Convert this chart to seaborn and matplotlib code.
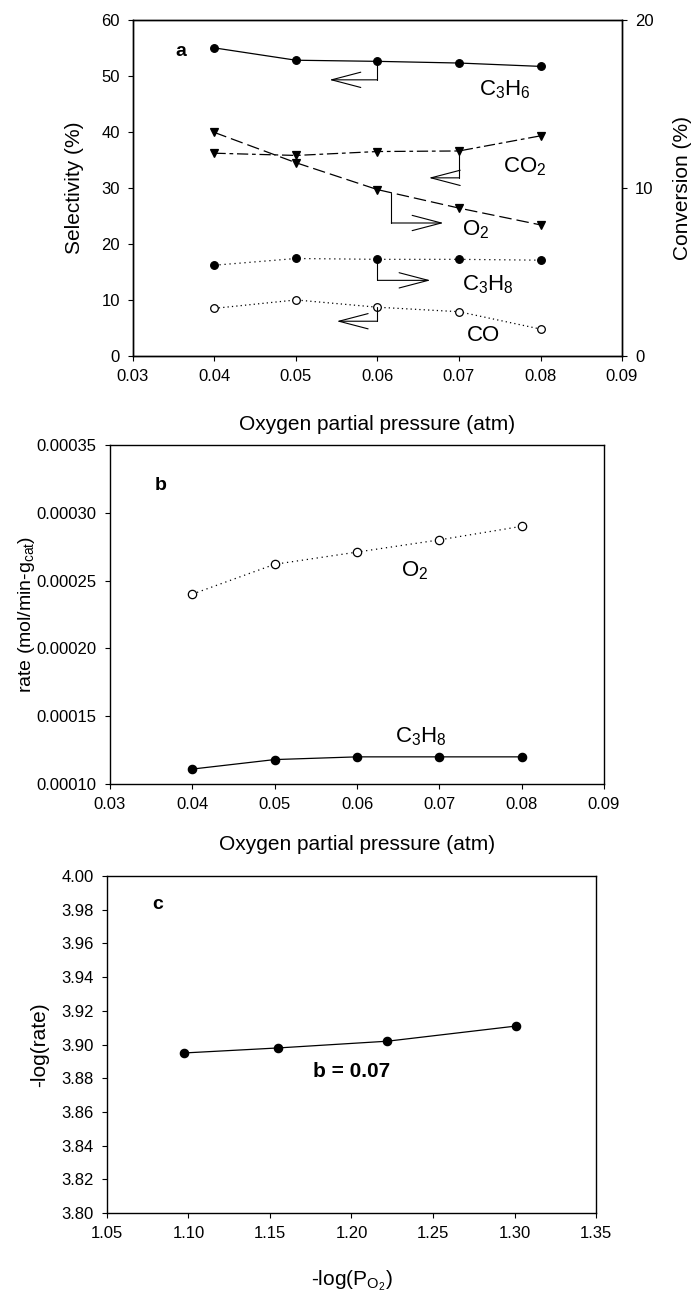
import numpy as np
import matplotlib
matplotlib.use("Agg")
import matplotlib.pyplot as plt
import seaborn as sns
from matplotlib.ticker import FormatStrFormatter, FixedLocator

# ---------------- data ----------------
pO2 = [0.04, 0.05, 0.06, 0.07, 0.08]
sel_C3H6 = [55.0, 52.8, 52.6, 52.3, 51.7]
sel_CO2 = [36.2, 35.8, 36.5, 36.6, 39.3]
sel_CO = [8.5, 10.0, 8.7, 7.9, 4.8]
conv_O2 = [13.3, 11.5, 9.9, 8.8, 7.8]
conv_C3H8 = [5.4, 5.8, 5.75, 5.75, 5.7]

rate_O2 = [0.000240, 0.000262, 0.000271, 0.000280, 0.000290]
rate_C3H8 = [0.000111, 0.000118, 0.000120, 0.000120, 0.000120]

neg_log_p = [1.097, 1.155, 1.222, 1.301]
neg_log_rate = [3.895, 3.898, 3.902, 3.911]

xticks_ab = [0.03, 0.04, 0.05, 0.06, 0.07, 0.08, 0.09]
yticks_a = [0, 10, 20, 30, 40, 50, 60]
yticks_a2 = [0, 10, 20]
yticks_b = [0.00010, 0.00015, 0.00020, 0.00025, 0.00030, 0.00035]
xticks_c = [1.05, 1.10, 1.15, 1.20, 1.25, 1.30, 1.35]
yticks_c = [3.80, 3.82, 3.84, 3.86, 3.88, 3.90, 3.92, 3.94, 3.96, 3.98, 4.00]

# ---------------- style ----------------
sns.set_theme(style="ticks")
plt.rcParams["font.family"] = ["Liberation Sans", "DejaVu Sans"]
plt.rcParams["mathtext.fontset"] = "custom"
plt.rcParams["mathtext.rm"] = "Liberation Sans"
plt.rcParams["mathtext.it"] = "Liberation Sans:italic"
plt.rcParams["mathtext.bf"] = "Liberation Sans:bold"
plt.rcParams["mathtext.default"] = "regular"
plt.rcParams["axes.linewidth"] = 1.0
plt.rcParams["axes.edgecolor"] = "black"
plt.rcParams["text.color"] = "black"
plt.rcParams["axes.labelcolor"] = "black"
plt.rcParams["xtick.color"] = "black"
plt.rcParams["ytick.color"] = "black"
plt.rcParams["xtick.labelcolor"] = "black"
plt.rcParams["ytick.labelcolor"] = "black"

TICK_FS = 12
LAB_FS = 15
SPEC_FS = 16

fig = plt.figure(figsize=(6.97, 13.01), dpi=100)
ax_a = fig.add_axes([0.1908, 0.7264, 0.7016, 0.2583])
ax_b = fig.add_axes([0.1578, 0.3974, 0.7088, 0.2606])
ax_c = fig.add_axes([0.1535, 0.0676, 0.7016, 0.2590])


def style_axes(ax):
    for s in ax.spines.values():
        s.set_visible(True)
        s.set_color("black")
        s.set_linewidth(1.0)
    ax.tick_params(axis="both", direction="out", length=3.5, width=0.8,
                   labelsize=TICK_FS, colors="black", pad=6)
    ax.tick_params(top=False, right=False)


def line(ax, x, y, ls, marker, filled=True, ms=5.5, lw=0.9):
    sns.lineplot(x=x, y=y, ax=ax, color="black", linestyle=ls, linewidth=lw,
                 marker=marker, markersize=ms,
                 markerfacecolor="black" if filled else "white",
                 markeredgecolor="black", markeredgewidth=0.9,
                 errorbar=None, sort=False)


def indicator(ax, x0, y0, dy, dx):
    ax.plot([x0, x0], [y0, y0 + dy], color="black", lw=0.8)
    ax.annotate("", xy=(x0 + dx, y0 + dy), xytext=(x0, y0 + dy),
                arrowprops=dict(arrowstyle="->,head_length=2.1,head_width=0.55",
                                color="black", lw=0.8, shrinkA=0, shrinkB=0,
                                mutation_scale=10))


# ---------------- panel a ----------------
ax2 = ax_a.twinx()
line(ax_a, pO2, sel_C3H6, "-", "o")
line(ax_a, pO2, sel_CO2, (0, (9, 3, 3, 3)), "v", ms=6)
line(ax_a, pO2, sel_CO, (0, (1, 2.5)), "o", filled=False)
line(ax2, pO2, conv_O2, (0, (10, 4)), "v", ms=6)
line(ax2, pO2, conv_C3H8, (0, (1, 3)), "o")

ax_a.set_xlim(0.03, 0.09)
ax_a.set_ylim(0, 60)
ax2.set_ylim(0, 20)
ax_a.xaxis.set_major_locator(FixedLocator(xticks_ab))
ax_a.yaxis.set_major_locator(FixedLocator(yticks_a))
ax2.yaxis.set_major_locator(FixedLocator(yticks_a2))
ax_a.xaxis.set_major_formatter(FormatStrFormatter("%.2f"))
style_axes(ax_a)
for s in ax2.spines.values():
    s.set_color("black")
    s.set_linewidth(1.0)
ax2.tick_params(axis="y", direction="out", length=3.5, width=0.8,
                labelsize=TICK_FS, colors="black", pad=6)
ax_a.set_xlabel("Oxygen partial pressure (atm)", fontsize=LAB_FS, color="black")
ax_a.set_ylabel("Selectivity (%)", fontsize=LAB_FS, color="black")
ax2.set_ylabel("Conversion (%)", fontsize=LAB_FS, rotation=90, color="black")
ax_a.xaxis.set_label_coords(0.5, -0.175)
ax_a.yaxis.set_label_coords(-0.10, 0.5)
ax2.yaxis.set_label_coords(1.105, 0.5)

indicator(ax_a, pO2[2], sel_C3H6[2], -3.3, -0.0059)
indicator(ax_a, pO2[3], sel_CO2[3], -4.8, -0.0037)
indicator(ax_a, pO2[2], sel_CO[2], -2.5, -0.0050)
x_o2 = pO2[2] + 0.0017
indicator(ax2, x_o2, float(np.interp(x_o2, pO2, conv_O2)), -1.8, 0.0064)
indicator(ax2, pO2[2], conv_C3H8[2], -1.25, 0.0065)

ax_a.text(0.0359, 54.3, "a", fontsize=14, fontweight="bold", ha="center", va="center")
ax_a.text(0.0756, 47.6, "C$_3$H$_6$", fontsize=SPEC_FS, ha="center", va="center")
ax_a.text(0.0781, 33.8, "CO$_2$", fontsize=SPEC_FS, ha="center", va="center")
ax_a.text(0.0720, 22.6, "O$_2$", fontsize=SPEC_FS, ha="center", va="center")
ax_a.text(0.0736, 12.7, "C$_3$H$_8$", fontsize=SPEC_FS, ha="center", va="center")
ax_a.text(0.0730, 3.7, "CO", fontsize=SPEC_FS, ha="center", va="center")

# ---------------- panel b ----------------
line(ax_b, pO2, rate_O2, (0, (1, 3)), "o", filled=False, ms=6)
line(ax_b, pO2, rate_C3H8, "-", "o", ms=6)
ax_b.set_xlim(0.03, 0.09)
ax_b.set_ylim(0.00010, 0.00035)
ax_b.xaxis.set_major_locator(FixedLocator(xticks_ab))
ax_b.yaxis.set_major_locator(FixedLocator(yticks_b))
ax_b.xaxis.set_major_formatter(FormatStrFormatter("%.2f"))
ax_b.yaxis.set_major_formatter(FormatStrFormatter("%.5f"))
style_axes(ax_b)
ax_b.set_xlabel("Oxygen partial pressure (atm)", fontsize=LAB_FS, color="black")
ax_b.set_ylabel("rate (mol/min-g$_{cat}$)", fontsize=14, color="black")
ax_b.xaxis.set_label_coords(0.5, -0.15)
ax_b.yaxis.set_label_coords(-0.148, 0.5)
ax_b.text(0.0362, 0.000320, "b", fontsize=14, fontweight="bold", ha="center", va="center")
ax_b.text(0.0670, 0.000257, "O$_2$", fontsize=SPEC_FS, ha="center", va="center")
ax_b.text(0.0678, 0.000135, "C$_3$H$_8$", fontsize=SPEC_FS, ha="center", va="center")

# ---------------- panel c ----------------
line(ax_c, neg_log_p, neg_log_rate, "-", "o", ms=6)
ax_c.set_xlim(1.05, 1.35)
ax_c.set_ylim(3.80, 4.00)
ax_c.xaxis.set_major_locator(FixedLocator(xticks_c))
ax_c.yaxis.set_major_locator(FixedLocator(yticks_c))
ax_c.xaxis.set_major_formatter(FormatStrFormatter("%.2f"))
ax_c.yaxis.set_major_formatter(FormatStrFormatter("%.2f"))
style_axes(ax_c)
ax_c.set_xlabel("-log(P$_{O_2}$)", fontsize=LAB_FS, color="black")
ax_c.set_ylabel("-log(rate)", fontsize=LAB_FS, color="black")
ax_c.xaxis.set_label_coords(0.5, -0.165)
ax_c.yaxis.set_label_coords(-0.118, 0.5)
ax_c.text(1.081, 3.983, "c", fontsize=14, fontweight="bold", ha="center", va="center")
ax_c.text(1.200, 3.884, "b = 0.07", fontsize=15, fontweight="bold", ha="center", va="center")

fig.savefig("out.png", dpi=100)
